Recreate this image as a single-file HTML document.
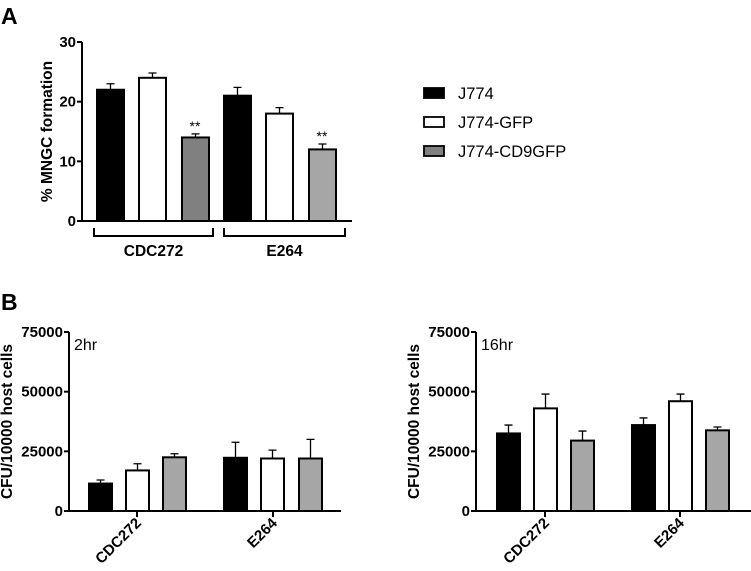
<!DOCTYPE html>
<html><head><meta charset="utf-8"><style>
body{margin:0;background:#fff}
svg{display:block;font-family:"Liberation Sans",Arial,sans-serif}
</style></head><body>
<svg id="fig" width="751" height="571" viewBox="0 0 751 571"></svg>
<script>
const seriesNames=["J774","J774-GFP","J774-CD9GFP"];
const groups=["CDC272","E264"];
const aVals=[[22,24,14],[21,18,12]];
const aErr=[[1.0,0.8,0.6],[1.4,1.0,0.9]];
const aTicks=[0,10,20,30];
const b2Vals=[[11500,17000,22500],[22300,22000,22000]];
const b2Err=[[1500,2800,1500],[6500,3500,8000]];
const b16Vals=[[32500,43000,29500],[36000,46000,33800]];
const b16Err=[[3500,6000,4000],[3000,3000,1400]];
const bTicks=[0,25000,50000,75000];

const NS="http://www.w3.org/2000/svg";
const svg=document.getElementById('fig');
function mk(tag,attrs,parent,text){const e=document.createElementNS(NS,tag);for(const k in attrs)e.setAttribute(k,attrs[k]);if(text!==undefined)e.textContent=text;(parent||svg).appendChild(e);return e;}

function panel(o){
  const g=mk('g',{});
  
  
  const y=v=>o.y0-(v/o.max)*(o.y0-o.yTop);
  o.vals.forEach((grp,gi)=>grp.forEach((v,si)=>{
    const x=o.barX[gi][si];
    const r=mk('rect',{x:x,y:y(v),width:o.bw,height:o.y0-y(v),fill:o.fills[gi][si],stroke:'#000','stroke-width':2},g);
    
    
    const cx=x+o.bw/2, top=y(v+o.err[gi][si]);
    const e=mk('path',{d:`M${cx},${y(v)}V${top}M${cx-4},${top}H${cx+4}`,stroke:'#000','stroke-width':1.3,fill:'none'},g);
    
    
  }));
  const ax=mk('path',{d:`M${o.x0},${o.yTop}V${o.y0}H${o.xEnd}`,stroke:'#000','stroke-width':2,fill:'none'},g);
  
  
  o.ticks.forEach(t=>{
    mk('line',{x1:o.x0-5,x2:o.x0,y1:y(t),y2:y(t),stroke:'#000','stroke-width':2},g);
    const tl=mk('text',{x:o.x0-6,y:y(t)+5,'text-anchor':'end','font-size':15,'font-weight':'bold'},g,String(t));
    
    
  });
  const yt=mk('text',{transform:`translate(${o.titleX},${(o.y0+o.yTop)/2}) rotate(-90)`,'text-anchor':'middle','font-size':15.5,'font-weight':'bold'},g,o.title);
  
  
  return {g,y};
}

mk('text',{x:1,y:24,'font-size':23,'font-weight':'bold'},svg,'A');
const A=panel({name:'panel-a-chart',vals:aVals,err:aErr,max:30,y0:221,yTop:42,x0:82,xEnd:352,ticks:aTicks,bw:27,
  barX:[[97,139,182],[224,266,309]],fills:[['#000','#fff','#808080'],['#000','#fff','#a6a6a6']],title:'% MNGC formation',titleX:52});
[[0,94,213],[1,224,345]].forEach(([gi,x1,x2])=>{
  const b=mk('path',{d:`M${x1},228V236H${x2}V228`,stroke:'#000','stroke-width':2,fill:'none'});
  
  
  const t=mk('text',{x:(x1+x2)/2,y:256,'text-anchor':'middle','font-size':15.5,'font-weight':'bold'},svg,groups[gi]);
  
  
});
[[195,aVals[0][2]+aErr[0][2]],[322,aVals[1][2]+aErr[1][2]]].forEach(([x,v])=>{
  const s=mk('text',{x:x,y:A.y(v)-3,'text-anchor':'middle','font-size':14},svg,'**');
  
  
});
const lf=['#000','#fff','#808080'];
seriesNames.forEach((n,i)=>{
  const cy=93+i*29;
  const r=mk('rect',{x:424,y:cy-5,width:20,height:10,fill:lf[i],stroke:'#000','stroke-width':1.8});
  
  
  const t=mk('text',{x:458,y:cy+6,'font-size':16.5},svg,n);
  
  
});

mk('text',{x:1,y:310,'font-size':23,'font-weight':'bold'},svg,'B');
function bPanel(name,vals,err,x0,xEnd,barX,ticksX,title,label){
  const P=panel({name:name,vals:vals,err:err,max:75000,y0:511,yTop:332,x0:x0,xEnd:xEnd,ticks:bTicks,bw:23,
    barX:barX,fills:[['#000','#fff','#a6a6a6'],['#000','#fff','#a6a6a6']],title:title,titleX:x0-57});
  ticksX.forEach((tx,gi)=>{
    mk('line',{x1:tx,x2:tx,y1:511,y2:517,stroke:'#000','stroke-width':2},P.g);
    const t=mk('text',{transform:`translate(${tx+5},${524}) rotate(-45)`,'text-anchor':'end','font-size':15,'font-weight':'bold'},P.g,groups[gi]);
    
    
  });
  const l=mk('text',{x:x0+5,y:350,'font-size':16},P.g,label);
  
  
}
bPanel('panel-b-2hr-chart',b2Vals,b2Err,69,341,[[89,126,163],[224,261,299]],[137,273],'CFU/10000 host cells','2hr');
bPanel('panel-b-16hr-chart',b16Vals,b16Err,476,751,[[497,534,571],[632,669,706]],[545,680],'CFU/10000 host cells','16hr');
</script>
</body></html>
